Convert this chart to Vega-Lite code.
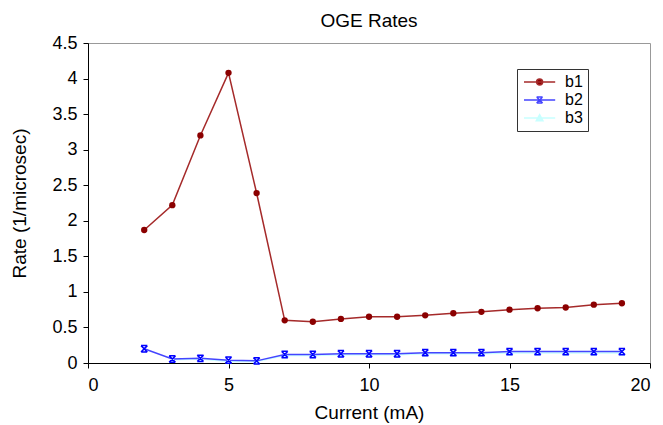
{
  "$schema": "https://vega.github.io/schema/vega-lite/v6.json",
  "width": 562,
  "height": 320,
  "autosize": "none",
  "padding": {"left": 88, "top": 43, "right": 13, "bottom": 62},
  "background": "white",
  "config": {
    "font": "Liberation Sans",
    "view": {"stroke": "#999999", "strokeWidth": 1},
    "axis": {"grid": false, "domainColor": "#000000", "tickColor": "#000000", "labelColor": "#000000", "titleColor": "#000000", "labelFontSize": 18, "titleFontSize": 19, "titleFontWeight": "normal", "tickSize": 5}
  },
  "title": {"text": "OGE Rates", "fontSize": 19, "fontWeight": "normal", "offset": 3, "color": "#000000"},
  "data": {"values": [
    {"current": 2, "rate": 1.87, "series": "b1"},
    {"current": 3, "rate": 2.22, "series": "b1"},
    {"current": 4, "rate": 3.2, "series": "b1"},
    {"current": 5, "rate": 4.08, "series": "b1"},
    {"current": 6, "rate": 2.39, "series": "b1"},
    {"current": 7, "rate": 0.6, "series": "b1"},
    {"current": 8, "rate": 0.58, "series": "b1"},
    {"current": 9, "rate": 0.62, "series": "b1"},
    {"current": 10, "rate": 0.65, "series": "b1"},
    {"current": 11, "rate": 0.65, "series": "b1"},
    {"current": 12, "rate": 0.67, "series": "b1"},
    {"current": 13, "rate": 0.7, "series": "b1"},
    {"current": 14, "rate": 0.72, "series": "b1"},
    {"current": 15, "rate": 0.75, "series": "b1"},
    {"current": 16, "rate": 0.77, "series": "b1"},
    {"current": 17, "rate": 0.78, "series": "b1"},
    {"current": 18, "rate": 0.82, "series": "b1"},
    {"current": 19, "rate": 0.84, "series": "b1"},
    {"current": 3, "rate": 0.045, "series": "b3"},
    {"current": 4, "rate": 0.055, "series": "b3"},
    {"current": 5, "rate": 0.02, "series": "b3"},
    {"current": 6, "rate": 0.02, "series": "b3"},
    {"current": 7, "rate": 0.105, "series": "b3"},
    {"current": 8, "rate": 0.105, "series": "b3"},
    {"current": 9, "rate": 0.115, "series": "b3"},
    {"current": 10, "rate": 0.115, "series": "b3"},
    {"current": 11, "rate": 0.115, "series": "b3"},
    {"current": 12, "rate": 0.13, "series": "b3"},
    {"current": 13, "rate": 0.13, "series": "b3"},
    {"current": 14, "rate": 0.13, "series": "b3"},
    {"current": 15, "rate": 0.14, "series": "b3"},
    {"current": 16, "rate": 0.14, "series": "b3"},
    {"current": 17, "rate": 0.14, "series": "b3"},
    {"current": 18, "rate": 0.14, "series": "b3"},
    {"current": 19, "rate": 0.14, "series": "b3"},
    {"current": 2, "rate": 0.2, "series": "b2"},
    {"current": 3, "rate": 0.056, "series": "b2"},
    {"current": 4, "rate": 0.066, "series": "b2"},
    {"current": 5, "rate": 0.04, "series": "b2"},
    {"current": 6, "rate": 0.03, "series": "b2"},
    {"current": 7, "rate": 0.12, "series": "b2"},
    {"current": 8, "rate": 0.12, "series": "b2"},
    {"current": 9, "rate": 0.13, "series": "b2"},
    {"current": 10, "rate": 0.13, "series": "b2"},
    {"current": 11, "rate": 0.13, "series": "b2"},
    {"current": 12, "rate": 0.145, "series": "b2"},
    {"current": 13, "rate": 0.145, "series": "b2"},
    {"current": 14, "rate": 0.145, "series": "b2"},
    {"current": 15, "rate": 0.16, "series": "b2"},
    {"current": 16, "rate": 0.16, "series": "b2"},
    {"current": 17, "rate": 0.16, "series": "b2"},
    {"current": 18, "rate": 0.16, "series": "b2"},
    {"current": 19, "rate": 0.16, "series": "b2"}
  ]},
  "encoding": {
    "x": {"field": "current", "type": "quantitative", "title": "Current (mA)",
      "scale": {"domain": [0, 20], "nice": false},
      "axis": {"values": [0, 5, 10, 15, 20], "format": "~g", "labelPadding": 8, "titlePadding": 9}},
    "y": {"field": "rate", "type": "quantitative", "title": "Rate (1/microsec)",
      "scale": {"domain": [0, 4.5], "nice": false},
      "axis": {"values": [0, 0.5, 1, 1.5, 2, 2.5, 3, 3.5, 4, 4.5], "format": "~g", "labelPadding": 6, "titlePadding": 22}}
  },
  "layer": [
    {
      "mark": {"type": "line", "strokeWidth": 1.5},
      "encoding": {
        "color": {"field": "series", "type": "nominal",
          "scale": {"domain": ["b1", "b2", "b3"], "range": ["#a52a2a", "#4444ff", "#c8ffff"]},
          "legend": {
            "title": null, "orient": "none", "legendX": 429, "legendY": 26,
            "strokeColor": "#333333", "padding": 5, "labelFontSize": 16, "labelColor": "#000000",
            "symbolSize": 144, "rowPadding": 2, "labelOffset": 27,
            "encode": {"symbols": {"update": {
              "shape": {"signal": "datum.value === 'b1' ? 'M-1,0H4.2M2.1,0A0.5,0.5,0,1,1,1.1,0A0.5,0.5,0,1,1,2.1,0Z' : datum.value === 'b2' ? 'M-1,0H4.2M1.1,-0.5L2.1,0.5M1.1,0.5L2.1,-0.5M1.1,-0.5H2.1M1.1,0.5H2.1' : 'M-1,0H4.2M1.6,-0.55L2.15,0.45H1.05Z'"},
              "fill": {"signal": "datum.value === 'b1' ? '#8b0000' : datum.value === 'b2' ? 'transparent' : '#ccffff'"},
              "stroke": {"signal": "datum.value === 'b1' ? '#a52a2a' : datum.value === 'b2' ? '#3333ff' : '#c8ffff'"},
              "strokeWidth": {"value": 1.5},
              "opacity": {"value": 1}
            }}}
          }
        },
        "order": {"field": "current"}
      }
    },
    {
      "transform": [{"filter": "datum.series === 'b3'"}],
      "mark": {"type": "point", "shape": "triangle-up", "filled": true, "color": "#ccffff", "opacity": 1, "size": 40}
    },
    {
      "transform": [{"filter": "datum.series === 'b2'"}],
      "mark": {"type": "point", "shape": "M-1,-1L1,1M-1,1L1,-1M-1,-1H1M-1,1H1", "filled": false, "color": "#0000ff", "opacity": 1, "size": 40, "strokeWidth": 1.5}
    },
    {
      "transform": [{"filter": "datum.series === 'b1'"}],
      "mark": {"type": "point", "shape": "circle", "filled": true, "color": "#8b0000", "opacity": 1, "size": 40}
    }
  ]
}
